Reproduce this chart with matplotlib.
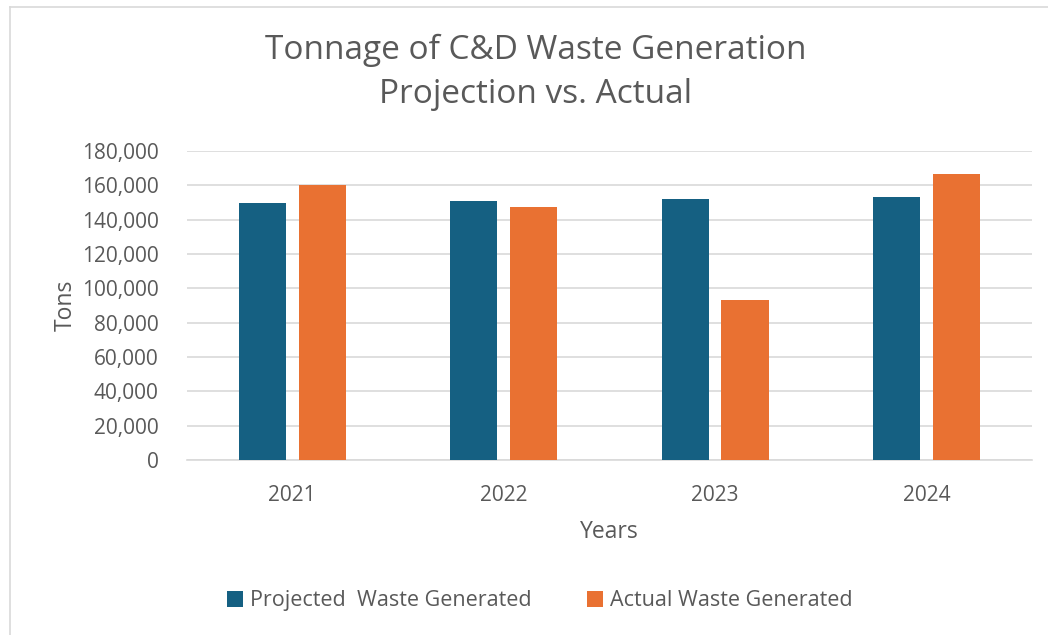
import matplotlib
matplotlib.use("Agg")
import matplotlib.pyplot as plt
import numpy as np
from matplotlib.lines import Line2D
from matplotlib.ticker import FuncFormatter

plt.rcParams["font.family"] = ["Open Sans", "DejaVu Sans"]

TEXT, GRID = "#595959", "#d9d9d9"
BLUE, ORANGE = "#156082", "#e97132"

years = ["2021", "2022", "2023", "2024"]
projected = [150000, 151000, 152000, 153000]
actual = [160200, 147600, 93000, 166800]

fig = plt.figure(figsize=(10.48, 6.35), dpi=100, facecolor="white")
ax = fig.add_axes([0.178, 0.2756, 0.807, 0.4866])

x = np.arange(len(years))
w = 0.223
gap = 0.06
ax.bar(x - (w + gap) / 2, projected, w, color=BLUE, label="Projected  Waste Generated", zorder=3)
ax.bar(x + (w + gap) / 2, actual, w, color=ORANGE, label="Actual Waste Generated", zorder=3)

ax.set_xlim(-0.5, len(years) - 0.5)
ax.set_ylim(0, 180000)
ax.set_yticks(np.arange(0, 180001, 20000))
ax.yaxis.set_major_formatter(FuncFormatter(lambda v, p: f"{int(v):,}"))
ax.set_xticks(x, years)
ax.grid(axis="y", color=GRID, lw=1.2, zorder=0)
for sp in ("top", "right", "left"):
    ax.spines[sp].set_visible(False)
ax.spines["bottom"].set_color(GRID)
ax.spines["bottom"].set_linewidth(1.2)
ax.tick_params(length=0, colors=TEXT, labelsize=15)
ax.tick_params(axis="x", pad=18)
ax.tick_params(axis="y", pad=20)

ax.set_xlabel("Years", color=TEXT, fontsize=16.5, labelpad=10)
ax.set_ylabel("Tons", color=TEXT, fontsize=16.5, labelpad=3)

fig.text(0.511, 0.886, "Tonnage of C&D Waste Generation\nProjection vs. Actual",
         ha="center", va="center", color=TEXT, fontsize=24, linespacing=1.45)

fig.legend(loc="center", bbox_to_anchor=(0.515, 0.054), ncol=2, frameon=False,
           fontsize=15.5, labelcolor=TEXT, handlelength=0.75, handleheight=0.75,
           handletextpad=0.3, columnspacing=2.6)

# chart frame (only top and left edges are visible in the original)
fig.add_artist(Line2D([10 / 1048, 10 / 1048], [0, 1 - 7 / 635],
                      transform=fig.transFigure, color=GRID, lw=1.2))
fig.add_artist(Line2D([10 / 1048, 1], [1 - 7 / 635, 1 - 7 / 635],
                      transform=fig.transFigure, color=GRID, lw=1.2))

fig.savefig("out.png", dpi=100, facecolor="white")
